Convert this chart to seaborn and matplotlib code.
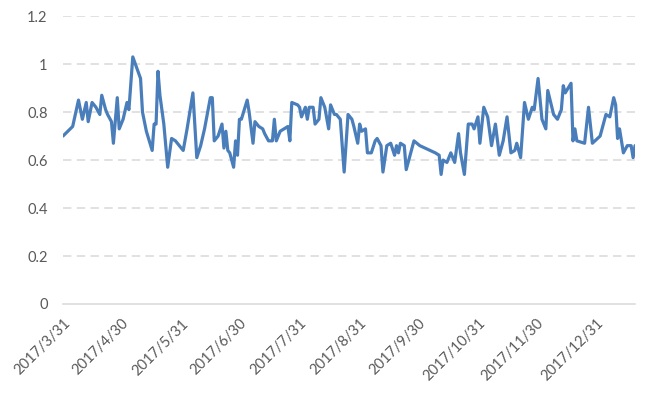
import seaborn as sns
import pandas as pd
import matplotlib.pyplot as plt
from matplotlib.transforms import ScaledTranslation

dates = [
    "2017-03-31", "2017-04-05", "2017-04-08", "2017-04-10", "2017-04-12", "2017-04-13",
    "2017-04-15", "2017-04-17", "2017-04-19", "2017-04-20", "2017-04-22", "2017-04-23",
    "2017-04-25", "2017-04-26", "2017-04-28", "2017-04-29", "2017-05-01", "2017-05-03",
    "2017-05-04", "2017-05-06", "2017-05-10", "2017-05-11", "2017-05-13", "2017-05-16",
    "2017-05-17", "2017-05-18", "2017-05-19", "2017-05-20", "2017-05-22", "2017-05-24",
    "2017-05-26", "2017-05-28", "2017-06-01", "2017-06-03", "2017-06-06", "2017-06-08",
    "2017-06-10", "2017-06-12", "2017-06-15", "2017-06-16", "2017-06-17", "2017-06-19",
    "2017-06-21", "2017-06-22", "2017-06-23", "2017-06-24", "2017-06-25", "2017-06-27",
    "2017-06-28", "2017-06-29", "2017-06-30", "2017-07-01", "2017-07-04", "2017-07-05",
    "2017-07-07", "2017-07-08", "2017-07-10", "2017-07-12", "2017-07-13", "2017-07-15",
    "2017-07-17", "2017-07-18", "2017-07-19", "2017-07-21", "2017-07-23", "2017-07-25",
    "2017-07-26", "2017-07-27", "2017-07-30", "2017-07-31", "2017-08-01", "2017-08-03",
    "2017-08-04", "2017-08-05", "2017-08-07", "2017-08-08", "2017-08-10", "2017-08-11",
    "2017-08-13", "2017-08-15", "2017-08-16", "2017-08-18", "2017-08-19", "2017-08-21",
    "2017-08-22", "2017-08-23", "2017-08-25", "2017-08-27", "2017-08-28", "2017-08-30",
    "2017-08-31", "2017-09-01", "2017-09-03", "2017-09-04", "2017-09-06", "2017-09-08",
    "2017-09-09", "2017-09-11", "2017-09-12", "2017-09-14", "2017-09-16", "2017-09-18",
    "2017-09-19", "2017-09-20", "2017-09-21", "2017-09-23", "2017-09-24", "2017-09-28",
    "2017-10-01", "2017-10-09", "2017-10-11", "2017-10-12", "2017-10-13", "2017-10-15",
    "2017-10-17", "2017-10-19", "2017-10-21", "2017-10-22", "2017-10-24", "2017-10-26",
    "2017-10-28", "2017-10-29", "2017-10-31", "2017-11-01", "2017-11-03", "2017-11-05",
    "2017-11-07", "2017-11-09", "2017-11-11", "2017-11-13", "2017-11-15", "2017-11-17",
    "2017-11-19", "2017-11-20", "2017-11-22", "2017-11-24", "2017-11-26", "2017-11-28",
    "2017-11-29", "2017-12-01", "2017-12-03", "2017-12-05", "2017-12-06", "2017-12-09",
    "2017-12-11", "2017-12-13", "2017-12-14", "2017-12-15", "2017-12-18", "2017-12-19",
    "2017-12-20", "2017-12-21", "2017-12-25", "2017-12-27", "2017-12-29", "2018-01-02",
    "2018-01-05", "2018-01-07", "2018-01-09", "2018-01-10", "2018-01-11", "2018-01-12",
    "2018-01-14", "2018-01-16", "2018-01-18", "2018-01-19", "2018-01-20",
]

values = [
    0.70, 0.74, 0.85, 0.77, 0.84, 0.76,
    0.84, 0.82, 0.79, 0.87, 0.81, 0.79,
    0.76, 0.67, 0.86, 0.73, 0.77, 0.84,
    0.81, 1.03, 0.94, 0.80, 0.72, 0.64,
    0.75, 0.75, 0.97, 0.87, 0.75, 0.57,
    0.69, 0.68, 0.64, 0.73, 0.88, 0.61,
    0.66, 0.73, 0.86, 0.86, 0.68, 0.70,
    0.75, 0.65, 0.72, 0.64, 0.63, 0.57,
    0.68, 0.62, 0.77, 0.77, 0.85, 0.80,
    0.67, 0.76, 0.74, 0.73, 0.71, 0.68,
    0.68, 0.77, 0.68, 0.72, 0.73, 0.74,
    0.68, 0.84, 0.83, 0.82, 0.78, 0.82,
    0.77, 0.82, 0.82, 0.75, 0.77, 0.86,
    0.82, 0.73, 0.83, 0.79, 0.79, 0.77,
    0.66, 0.55, 0.79, 0.77, 0.74, 0.67,
    0.75, 0.72, 0.73, 0.63, 0.63, 0.68,
    0.69, 0.66, 0.55, 0.66, 0.67, 0.62,
    0.66, 0.63, 0.67, 0.66, 0.56, 0.68,
    0.66, 0.63, 0.62, 0.54, 0.60, 0.59,
    0.63, 0.59, 0.71, 0.63, 0.54, 0.75,
    0.75, 0.73, 0.78, 0.67, 0.82, 0.78,
    0.66, 0.75, 0.62, 0.68, 0.78, 0.63,
    0.64, 0.67, 0.61, 0.84, 0.77, 0.82,
    0.81, 0.94, 0.77, 0.73, 0.89, 0.79,
    0.77, 0.81, 0.91, 0.88, 0.92, 0.68,
    0.73, 0.68, 0.67, 0.82, 0.67, 0.70,
    0.79, 0.78, 0.86, 0.83, 0.69, 0.73,
    0.63, 0.66, 0.66, 0.61, 0.66,
]

tick_labels = [
    "2017/3/31", "2017/4/30", "2017/5/31", "2017/6/30", "2017/7/31",
    "2017/8/31", "2017/9/30", "2017/10/31", "2017/11/30", "2017/12/31",
]
y_ticks = [0, 0.2, 0.4, 0.6, 0.8, 1.0, 1.2]
y_tick_labels = ["0", "0.2", "0.4", "0.6", "0.8", "1", "1.2"]

df = pd.DataFrame({"date": pd.to_datetime(dates), "value": values})

sns.set_style("white")
plt.rcParams["font.family"] = ["Lato", "DejaVu Sans"]

fig, ax = plt.subplots(figsize=(6.54, 3.93), dpi=100)
fig.subplots_adjust(left=0.0963, right=0.971, top=0.959, bottom=0.2265)

sns.lineplot(data=df, x="date", y="value", color="#4a7ebb", linewidth=2.3, ax=ax)

ax.set_ylim(0, 1.2)
ax.set_xlim(pd.Timestamp("2017-03-31"), pd.Timestamp("2018-01-20"))
ax.set_yticks(y_ticks)
ax.set_yticklabels(y_tick_labels)
ax.set_xticks(pd.to_datetime(tick_labels, format="%Y/%m/%d"))
ax.set_xticklabels(tick_labels, rotation=45, ha="right", rotation_mode="anchor")

# nudge rotated labels a little to the right, like Excel does
shift = ScaledTranslation(3 / 72, 0, fig.dpi_scale_trans)
for lbl in ax.get_xticklabels():
    lbl.set_transform(lbl.get_transform() + shift)

# dashed horizontal grid, solid light baseline
for y in y_ticks[1:]:
    ax.axhline(y, color="#d9d9d9", linewidth=1.1, linestyle=(0, (5.5, 3.5)), zorder=0)

for side in ["top", "right", "left"]:
    ax.spines[side].set_visible(False)
ax.spines["bottom"].set_color("#d9d9d9")
ax.spines["bottom"].set_linewidth(1.1)

ax.tick_params(axis="y", length=0, pad=11, labelsize=10.5, labelcolor="#595959")
ax.tick_params(axis="x", length=4, width=1, color="#d9d9d9", pad=5,
               labelsize=10.5, labelcolor="#595959")

ax.set_xlabel("")
ax.set_ylabel("")

plt.savefig("out.png", dpi=100)
